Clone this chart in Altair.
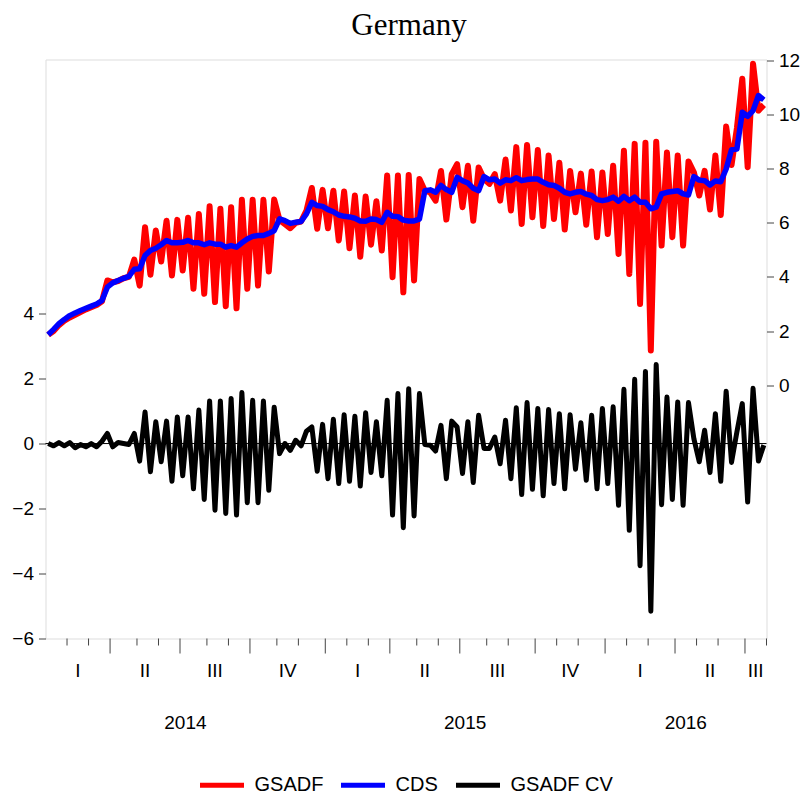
import altair as alt
import pandas as pd

# ---------------- data (weekly observations, Jan 2014 - Jul 2016) ----------------
gsadf = [1.86, 2.00, 2.22, 2.38, 2.50, 2.60, 2.70, 2.80, 2.88, 2.96,
         3.10, 3.87, 3.80, 3.85, 3.95, 4.00, 4.64, 3.68, 5.84, 4.08,
         5.72, 4.57, 6.08, 4.05, 6.11, 4.24, 6.19, 3.56, 6.33, 3.38,
         6.61, 3.07, 6.52, 2.92, 6.58, 2.84, 6.85, 3.56, 6.85, 3.68,
         6.85, 4.20, 6.86, 6.10, 5.95, 5.80, 6.00, 6.05, 6.45, 7.29,
         5.78, 7.22, 5.80, 7.19, 5.35, 7.16, 5.06, 7.01, 4.75, 6.97,
         5.19, 6.80, 4.98, 7.75, 3.99, 7.75, 3.43, 7.77, 3.87, 7.62,
         7.19, 7.13, 6.82, 7.92, 6.12, 7.80, 8.17, 6.58, 8.11, 6.08,
         8.05, 7.62, 7.44, 7.80, 6.82, 8.34, 6.46, 8.80, 5.96, 8.88,
         6.21, 8.69, 5.88, 8.49, 6.14, 8.22, 5.75, 7.92, 6.39, 7.82,
         5.93, 7.90, 5.47, 7.86, 5.59, 8.11, 4.85, 8.67, 4.11, 8.92,
         3.00, 8.96, 1.28, 9.00, 5.16, 8.60, 5.47, 8.49, 5.16, 8.27,
         7.87, 7.01, 7.92, 6.49, 8.49, 6.29, 9.56, 8.14, 9.50, 11.33,
         8.06, 11.88, 10.15, 10.36]

cds = [1.86, 2.06, 2.27, 2.43, 2.57, 2.67, 2.76, 2.84, 2.92, 3.00,
       3.13, 3.62, 3.78, 3.87, 3.95, 4.02, 4.28, 4.30, 4.79, 4.98,
       5.06, 5.19, 5.35, 5.26, 5.26, 5.28, 5.35, 5.26, 5.26, 5.19,
       5.26, 5.21, 5.21, 5.10, 5.16, 5.10, 5.26, 5.40, 5.50, 5.53,
       5.53, 5.61, 5.71, 6.15, 6.08, 5.98, 6.02, 6.05, 6.33, 6.76,
       6.64, 6.61, 6.49, 6.41, 6.29, 6.24, 6.22, 6.17, 6.07, 6.06,
       6.14, 6.12, 6.02, 6.39, 6.24, 6.23, 6.10, 6.07, 6.07, 6.14,
       7.19, 7.22, 7.13, 7.38, 7.23, 7.13, 7.68, 7.56, 7.47, 7.28,
       7.19, 7.71, 7.59, 7.62, 7.47, 7.59, 7.56, 7.67, 7.56, 7.60,
       7.62, 7.62, 7.50, 7.41, 7.38, 7.28, 7.13, 7.07, 7.13, 7.16,
       7.06, 7.01, 6.86, 6.82, 6.86, 6.95, 6.80, 6.98, 6.82, 6.95,
       6.76, 6.76, 6.52, 6.58, 7.07, 7.13, 7.16, 7.19, 7.07, 7.03,
       7.71, 7.58, 7.56, 7.40, 7.55, 7.52, 7.99, 8.70, 8.73, 10.09,
       9.94, 10.15, 10.71, 10.55]

gsadf_cv = [0.00, -0.07, 0.03, -0.07, 0.03, -0.13, -0.03, -0.10, 0.00, -0.10,
            0.07, 0.31, -0.10, 0.03, 0.00, -0.03, 0.31, -0.54, 0.97, -0.87,
            0.67, -0.56, 0.69, -1.16, 0.82, -0.99, 0.82, -1.39, 1.03, -1.72,
            1.31, -2.05, 1.31, -2.15, 1.39, -2.20, 1.57, -1.82, 1.33, -1.82,
            1.31, -1.44, 1.12, -0.31, 0.00, -0.21, 0.10, -0.07, 0.38, 0.51,
            -0.85, 0.59, -1.08, 0.75, -1.23, 0.89, -1.16, 0.84, -1.31, 0.95,
            -0.89, 0.67, -0.99, 1.33, -2.20, 1.54, -2.59, 1.69, -2.23, 1.54,
            -0.03, -0.05, -0.23, 0.56, -1.08, 0.69, 0.51, -0.92, 0.67, -1.20,
            0.87, -0.15, -0.15, 0.20, -0.62, 0.72, -1.08, 1.10, -1.57, 1.26,
            -1.41, 1.08, -1.61, 1.05, -1.23, 0.92, -1.39, 0.89, -0.79, 0.64,
            -1.13, 0.87, -1.39, 1.08, -1.23, 1.13, -1.90, 1.67, -2.67, 1.98,
            -3.76, 2.22, -5.16, 2.43, -1.88, 1.43, -1.72, 1.28, -1.90, 1.26,
            0.15, -0.56, 0.41, -0.89, 0.92, -1.16, 1.61, -0.58, 0.36, 1.23,
            -1.80, 1.70, -0.54, -0.05]

series_names = ["GSADF", "CDS", "GSADF CV"]
series_colors = ["#ff0000", "#0000ff", "#000000"]

# observation index at which each month starts (first obs = Jan 2014)
month_starts = [4, 8, 12, 17, 21, 25, 30, 34, 38, 43, 47, 52, 56, 60, 64, 69,
                73, 77, 82, 86, 91, 95, 99, 104, 108, 112, 117, 121, 125, 130, 134]
quarter_starts = [12, 25, 38, 52, 64, 77, 91, 104, 117, 130]
quarter_labels = ["I", "II", "III", "IV", "I", "II", "III", "IV", "I", "II", "III"]
year_starts = [52, 104]
year_labels = ["2014", "2015", "2016"]
left_ticks = [-6, -4, -2, 0, 2, 4]
right_ticks = [0, 2, 4, 6, 8, 10, 12]
chart_title = "Germany"

n_obs = len(cds)
W, H = 721, 579
FONT = "Liberation Sans"

# ---------------- tables ----------------
rows = []
for name, vals in zip(series_names, [gsadf, cds, gsadf_cv]):
    for i, v in enumerate(vals):
        rows.append({"obs": i + 0.5, "value": v, "series": name})
df = pd.DataFrame(rows)

short_ticks = pd.DataFrame({"x": [m for m in month_starts if m not in quarter_starts]})
long_ticks = pd.DataFrame({"x": quarter_starts})
qb = [0] + quarter_starts + [n_obs]
q_df = pd.DataFrame({"x": [(qb[k] + qb[k + 1]) / 2 for k in range(len(quarter_labels))],
                     "t": quarter_labels})
yb = [0] + year_starts + [n_obs]
y_df = pd.DataFrame({"x": [(yb[k] + yb[k + 1]) / 2 for k in range(len(year_labels))],
                     "t": year_labels})
title_df = pd.DataFrame({"t": [chart_title]})

xscale = alt.Scale(domain=[0, n_obs], nice=False, zero=False)
X = alt.X("obs:Q", scale=xscale, axis=None)

color = alt.Color(
    "series:N",
    scale=alt.Scale(domain=series_names, range=series_colors),
    legend=alt.Legend(
        title=None, orient="none", direction="horizontal",
        legendX=152, legendY=701,
        symbolType="stroke", symbolStrokeWidth=5, symbolSize=1936,
        labelFont=FONT, labelFontSize=20, labelColor="black",
        labelOffset=8, columnPadding=7, padding=0,
    ),
)

right_scale = alt.Scale(domain=[-9.37, 12.04], nice=False, zero=False)
right_axis = alt.Axis(orient="right", values=right_ticks, grid=False, domain=False,
                      tickSize=7, tickColor="#444", labelFont=FONT, labelFontSize=19,
                      labelColor="black", labelPadding=5, title=None)
left_scale = alt.Scale(domain=[-6, 11.82], nice=False, zero=False)
left_axis = alt.Axis(orient="left", values=left_ticks, grid=False, domain=False,
                     tickSize=7, tickColor="#444", labelFont=FONT, labelFontSize=19,
                     labelColor="black", labelPadding=5, title=None)

red = alt.Chart(df).transform_filter(alt.datum.series == "GSADF").mark_line(
    strokeWidth=6, strokeJoin="round").encode(
    x=X, y=alt.Y("value:Q", scale=right_scale, axis=right_axis), color=color)
blue = alt.Chart(df).transform_filter(alt.datum.series == "CDS").mark_line(
    strokeWidth=5.5, strokeJoin="round").encode(
    x=X, y=alt.Y("value:Q", scale=right_scale, axis=right_axis), color=color)
right_layer = alt.layer(red, blue)

zero = alt.Chart(pd.DataFrame({"z": [0]})).mark_rule(color="black", strokeWidth=1).encode(
    y=alt.Y("z:Q", scale=left_scale, axis=left_axis))
black = alt.Chart(df).transform_filter(alt.datum.series == "GSADF CV").mark_line(
    strokeWidth=5, strokeJoin="round").encode(
    x=X, y=alt.Y("value:Q", scale=left_scale, axis=left_axis), color=color)
left_layer = alt.layer(zero, black)

st = alt.Chart(short_ticks).mark_rule(color="#444", strokeWidth=1).encode(
    x=alt.X("x:Q", scale=xscale, axis=None), y=alt.value(H), y2=alt.value(H + 7))
lt = alt.Chart(long_ticks).mark_rule(color="#444", strokeWidth=1).encode(
    x=alt.X("x:Q", scale=xscale, axis=None), y=alt.value(H), y2=alt.value(H + 15))
ql = alt.Chart(q_df).mark_text(font=FONT, fontSize=19, baseline="middle", color="black").encode(
    x=alt.X("x:Q", scale=xscale, axis=None), y=alt.value(H + 32), text="t:N")
yl = alt.Chart(y_df).mark_text(font=FONT, fontSize=19, baseline="middle", color="black").encode(
    x=alt.X("x:Q", scale=xscale, axis=None), y=alt.value(H + 84), text="t:N")
tl = alt.Chart(title_df).mark_text(font="Liberation Serif", fontSize=31, baseline="alphabetic",
                                   color="black").encode(
    x=alt.value(W / 2 + 3), y=alt.value(-25), text="t:N")

chart = alt.layer(left_layer, right_layer, st, lt, ql, yl, tl).resolve_scale(
    y="independent"
).properties(
    width=W, height=H,
    autosize=alt.AutoSizeParams(type="none"),
    padding={"left": 37.5, "top": 51.5, "right": 33.5, "bottom": 156.5},
).configure_view(stroke="black", strokeWidth=1).configure(background="white")

chart.save("out.html", embed_options={"renderer": "svg", "actions": False})
